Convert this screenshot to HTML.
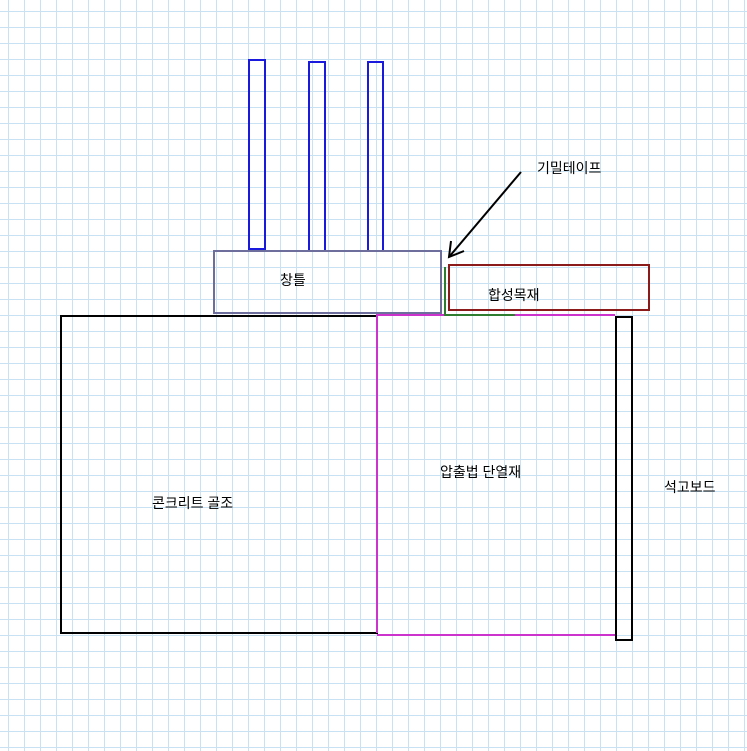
<!DOCTYPE html>
<html><head><meta charset="utf-8"><style>
html,body{margin:0;padding:0;background:#fff}
svg{display:block}
text{font-family:"Liberation Sans","Noto Sans CJK KR",sans-serif;font-size:14px;fill:#000}
</style></head><body>
<svg width="747" height="751" viewBox="0 0 747 751" xmlns="http://www.w3.org/2000/svg">
<defs>
<pattern id="g" x="8" y="11" width="16" height="16" patternUnits="userSpaceOnUse">
<rect x="0" y="0" width="1" height="16" fill="#c8e2f4"/>
<rect x="0" y="0" width="16" height="1" fill="#c8e2f4"/>
</pattern>
</defs>
<rect width="747" height="751" fill="url(#g)"/>
<g fill="none" stroke-width="2">
<rect x="249" y="60" width="16" height="189" stroke="#1a1adc"/>
<rect x="309" y="62" width="16" height="189" stroke="#1a1adc"/>
<rect x="368" y="62" width="15" height="189" stroke="#1a1adc"/>
<rect x="214" y="251" width="227" height="62" stroke="#6e6e9c"/>
<rect x="449" y="265" width="200" height="45" stroke="#8b1a1a"/>
<rect x="61" y="316" width="316" height="317" stroke="#000"/>
<polyline points="377,633 377,315 615,315" stroke="#cc33cc"/>
<line x1="377" y1="635" x2="615" y2="635" stroke="#cc33cc"/>
<polyline points="445,267 445,315 515,315" stroke="#2e7d2e"/>
<rect x="616" y="317" width="16" height="323" stroke="#000"/>
<line x1="521" y1="172" x2="449" y2="257" stroke="#000"/>
<polyline points="451,241 449,257 464,251" stroke="#000"/>
</g>
<text x="280" y="285">창틀</text>
<text x="488" y="300">합성목재</text>
<text x="537" y="173">기밀테이프</text>
<text x="152" y="508">콘크리트 골조</text>
<text x="440" y="477">압출법 단열재</text>
<text x="664" y="492">석고보드</text>
</svg>
</body></html>
